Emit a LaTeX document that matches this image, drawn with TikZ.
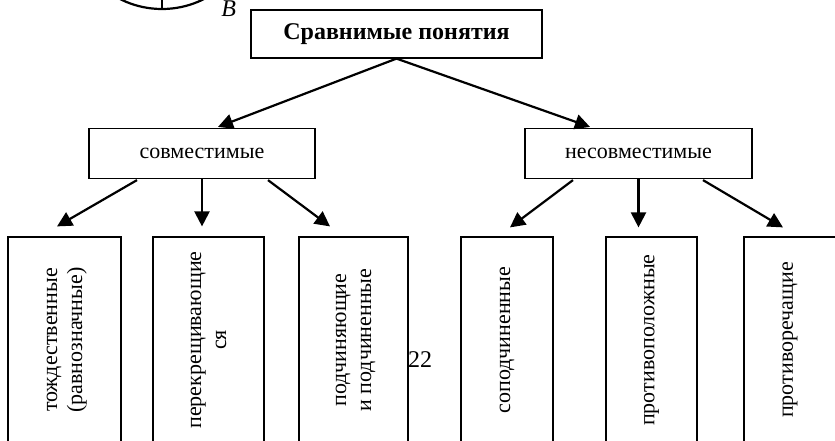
\documentclass[tikz,border=0pt]{standalone}
\usepackage{fontspec}
\setmainfont{Liberation Serif}
\usepackage{graphicx}
\usetikzlibrary{arrows.meta, positioning, calc}

\begin{document}
\begin{tikzpicture}[
  x=0.5pt, y=-0.5pt,
  font=\fontsize{11}{12.5}\selectfont,
  box/.style={draw, line width=0.6pt, inner sep=0pt, minimum height=25pt, align=center},
  leaf/.style={draw, line width=0.6pt, inner sep=0pt, minimum height=103pt},
  arrow/.style={-{Triangle[length=7.5pt, width=7.5pt]}, line width=1.1pt}
  ]
\useasboundingbox (0,0) rectangle (835,440);
\clip (0,0) rectangle (835,440);

% Circle
\draw[line width=1.1pt] (162,-84) circle[radius=93];
\draw[line width=1.1pt] (162,-84) -- (162,9);
\node[font=\fontsize{12}{14}\selectfont\itshape, anchor=base west, inner sep=0pt] (lblB) at (221,16) {B};

% Nodes
\node[box, minimum width=145.5pt, minimum height=24pt, font=\fontsize{12}{14}\selectfont\bfseries] (top) at (396.5,34) {Сравнимые понятия};
\node[box, minimum width=113pt] (comp) at (202,153.5) {совместимые};
\node[box, minimum width=113.5pt] (incomp) at (638.5,153.5) {несовместимые};

\node[leaf, minimum width=56.5pt] (b1) at (64.5,340) {\rotatebox{90}{\begin{tabular}{@{}c@{}}тождественные\\(равнозначные)\end{tabular}}};
\node[leaf, minimum width=55.5pt] (b2) at (208.5,340) {\rotatebox{90}{\begin{tabular}{@{}c@{}}перекрещивающие\\ся\end{tabular}}};
\node[leaf, minimum width=54.5pt] (b3) at (353.5,340) {\rotatebox{90}{\begin{tabular}{@{}c@{}}подчиняющие\\и подчиненные\end{tabular}}};
\node[leaf, minimum width=46pt] (b4) at (507,340) {\rotatebox{90}{соподчиненные}};
\node[leaf, minimum width=45.5pt] (b5) at (651.5,340) {\rotatebox{90}{противоположные}};
\node[leaf, minimum width=46pt] (b6) at (790,340) {\rotatebox{90}{противоречащие}};

\node[font=\fontsize{12}{14}\selectfont] (page) at (420,360) {22};

% Arrows
\draw[arrow] (top.south) -- ($(comp.north)+(16,-1)$);
\draw[arrow] (top.south) -- ($(incomp.north)+(-48.5,-1)$);
\draw[arrow] ($(comp.south)+(-65,1)$) -- ($(b1.north)+(-7.5,-10)$);
\draw[arrow] (comp.south) -- ($(b2.north)+(-6.5,-10)$);
\draw[arrow] ($(comp.south)+(66,1)$) -- ($(b3.north)+(-23.5,-10)$);
\draw[arrow] ($(incomp.south)+(-65.5,1)$) -- ($(b4.north)+(3,-9)$);
\draw[arrow] (incomp.south) -- ($(b5.north)+(-13,-9)$);
\draw[arrow] ($(incomp.south)+(64.5,1)$) -- ($(b6.north)+(-7,-9)$);

\end{tikzpicture}
\end{document}
